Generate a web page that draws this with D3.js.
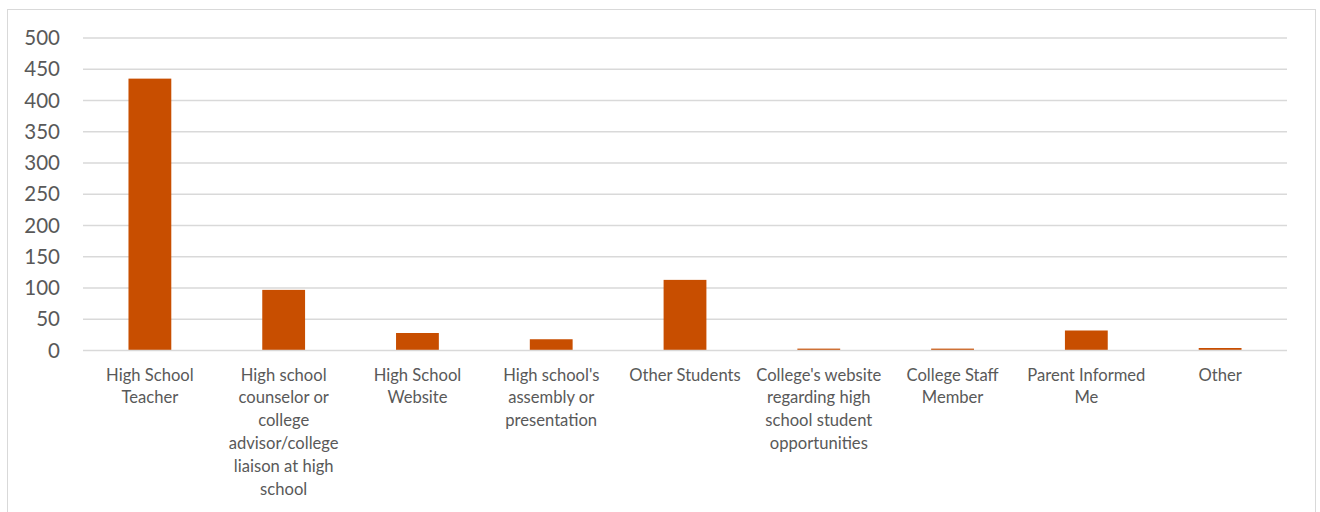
<!DOCTYPE html>
<html>
<head>
<meta charset="utf-8">
<script src="https://cdn.jsdelivr.net/npm/d3@7"></script>
<style>
  body { margin: 0; background: #fff; }
  text { font-family: Lato, "Open Sans", sans-serif; fill: #595959; }
</style>
</head>
<body>
<div id="chart"></div>
<script>
// Chart data
const categories = [
  'High School Teacher',
  'High school counselor or college advisor/college liaison at high school',
  'High School Website',
  "High school's assembly or presentation",
  'Other Students',
  "College's website regarding high school student opportunities",
  'College Staff Member',
  'Parent Informed Me',
  'Other'
]
// how Excel wrapped each label
const labelLines = [
  ['High School', 'Teacher'],
  ['High school', 'counselor or', 'college', 'advisor/college', 'liaison at high', 'school'],
  ['High School', 'Website'],
  ["High school's", 'assembly or', 'presentation'],
  ['Other Students'],
  ["College's website", 'regarding high', 'school student', 'opportunities'],
  ['College Staff', 'Member'],
  ['Parent Informed', 'Me'],
  ['Other']
]
const counts = [435, 97, 28, 18, 113, 3, 3, 32, 4]
const yTicks = [0, 50, 100, 150, 200, 250, 300, 350, 400, 450, 500]

const width = 1320,
height = 512

const plot = {left: 83, right: 1287, top: 38, bottom: 350.5}

let svg = d3.select('#chart')
.append('svg')
.attr('width', width)
.attr('height', height)

// outer chart frame
svg.append('rect')
.attr('x', 7.5)
.attr('y', 9.5)
.attr('width', 1308)
.attr('height', 520)
.attr('fill', 'none')
.attr('stroke', '#d9d9d9')
.attr('stroke-width', 1)

const xScale = d3.scaleBand()
.domain(categories)
.range([plot.left, plot.right])
.paddingInner(0.68)
.paddingOuter(0.34)

const yScale = d3.scaleLinear()
.domain([0, 500])
.range([plot.bottom, plot.top])

// gridlines
svg.append('g')
.selectAll('line')
.data(yTicks.filter(d => d > 0))
.enter()
.append('line')
.attr('x1', plot.left)
.attr('x2', plot.right)
.attr('y1', d => yScale(d))
.attr('y2', d => yScale(d))
.attr('stroke', '#d9d9d9')
.attr('stroke-width', 1.3)

// bars
svg.append('g')
.selectAll('rect')
.data(counts)
.enter()
.append('rect')
.attr('x', (d, i) => xScale(categories[i]))
.attr('y', d => yScale(d))
.attr('width', xScale.bandwidth())
.attr('height', d => yScale(0) - yScale(d))
.attr('fill', '#c84e00')

// horizontal axis line over the bars
svg.append('line')
.attr('x1', plot.left)
.attr('x2', plot.right)
.attr('y1', yScale(0))
.attr('y2', yScale(0))
.attr('stroke', '#d9d9d9')
.attr('stroke-width', 1.3)

// y axis labels
const yAxis = d3.axisLeft(yScale).tickValues(yTicks).tickSize(0).tickPadding(0)
let yg = svg.append('g')
.attr('transform', 'translate(60,0)')
.call(yAxis)
yg.select('.domain').remove()
yg.selectAll('text')
.style('font-family', 'Lato, "Open Sans", sans-serif')
.style('font-size', '20.5px')
.attr('fill', '#595959')

// x axis labels
const xAxis = d3.axisBottom(xScale).tickSize(0).tickFormat('')
let xg = svg.append('g')
.attr('transform', `translate(0,${plot.bottom})`)
.call(xAxis)
xg.select('.domain').remove()
xg.selectAll('.tick').each(function (d, i) {
  let t = d3.select(this).append('text')
  .attr('text-anchor', 'middle')
  .attr('fill', '#595959')
  .style('font-size', '16.6px')
  .attr('y', 30)
  t.selectAll('tspan')
  .data(labelLines[i])
  .enter()
  .append('tspan')
  .attr('x', 0)
  .attr('dy', (l, j) => j === 0 ? 0 : 22.8)
  .text(l => l)
})
</script>
</body>
</html>
